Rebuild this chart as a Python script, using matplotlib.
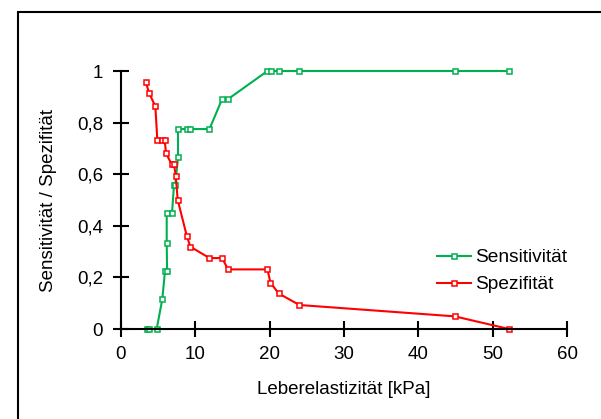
import matplotlib
matplotlib.use('Agg')
import matplotlib.pyplot as plt
from matplotlib.patches import Rectangle
from matplotlib.ticker import FuncFormatter

plt.rcParams['font.family'] = ['Liberation Sans', 'DejaVu Sans']

# Sensitivitaet
sens_x = [3.45, 3.8, 4.8, 5.56, 5.92, 6.2, 6.15, 6.15, 6.86, 7.13, 7.3, 7.67,
          7.67, 8.84, 9.33, 11.9, 13.6, 14.4, 19.7, 20.2, 21.2, 24.0, 44.9, 52.2]
sens_y = [0, 0, 0, 0.116, 0.225, 0.225, 0.333, 0.448, 0.448, 0.558, 0.558, 0.665,
          0.775, 0.775, 0.775, 0.775, 0.891, 0.891, 1, 1, 1, 1, 1, 1]

# Spezifitaet
spez_x = [3.32, 3.81, 4.62, 4.89, 5.48, 5.88, 6.06, 6.82, 7.13, 7.36, 7.63,
          8.84, 9.33, 11.9, 13.6, 14.4, 19.7, 20.1, 21.2, 24.0, 44.9, 52.2]
spez_y = [0.957, 0.913, 0.863, 0.731, 0.731, 0.731, 0.681, 0.638, 0.638, 0.594, 0.5,
          0.362, 0.319, 0.275, 0.275, 0.231, 0.231, 0.18, 0.138, 0.093, 0.049, 0]

green = '#00B050'
red = '#FF0000'

fig = plt.figure(figsize=(6.01, 4.19), dpi=100)
# outer frame (only left and top edges visible)
fig.patches.append(Rectangle((17.5 / 601, -0.1), 1.2, 1 - 12.5 / 419 + 0.1,
                             transform=fig.transFigure, fill=False,
                             edgecolor='black', linewidth=1.5))
ax = fig.add_axes([121 / 601, 1 - 329 / 419, 446 / 601, 258 / 419])

mk = dict(marker='s', markersize=3.6, markerfacecolor='white', markeredgewidth=1.1, linewidth=1.5)
ax.plot(sens_x, sens_y, color=green, label='Sensitivität', clip_on=False, **mk)
ax.plot(spez_x, spez_y, color=red, label='Spezifität', clip_on=False, **mk)

ax.set_xlim(0, 60)
ax.set_ylim(0, 1)
ax.set_xticks(range(0, 61, 10))
ax.set_yticks([0, 0.2, 0.4, 0.6, 0.8, 1])
ax.yaxis.set_major_formatter(FuncFormatter(lambda v, p: ('%g' % v).replace('.', ',')))
ax.spines['top'].set_visible(False)
ax.spines['right'].set_visible(False)
ax.spines['left'].set_linewidth(1.5)
ax.spines['bottom'].set_linewidth(1.5)
ax.tick_params(direction='inout', length=12, width=1.5, labelsize=13.5)
ax.tick_params(axis='x', pad=6)
ax.tick_params(axis='y', pad=7)

ax.set_xlabel('Leberelastizität [kPa]', fontsize=13.5)
ax.set_ylabel('Sensitivität / Spezifität', fontsize=13.5)
ax.xaxis.set_label_coords(0.5, -0.2)
ax.yaxis.set_label_coords(-0.143, 0.5)

ax.legend(loc='upper left', bbox_to_anchor=(0.7085, 0.31), frameon=False, fontsize=13.8,
          handlelength=1.8, handletextpad=0.2, labelspacing=0.5, borderpad=0,
          borderaxespad=0)

fig.savefig('out.png', dpi=100)
